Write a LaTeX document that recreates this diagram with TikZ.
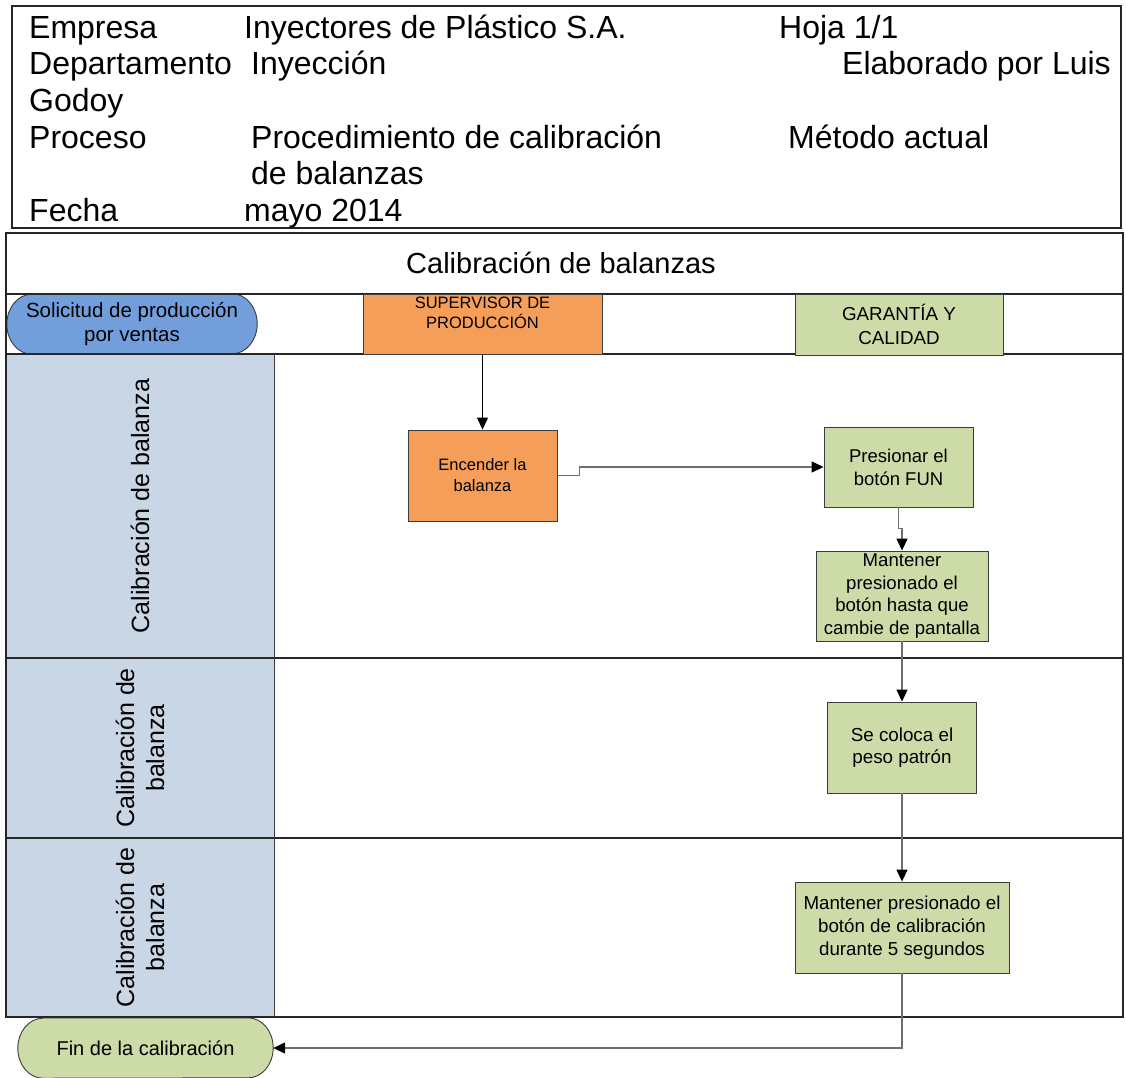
\documentclass[tikz,border=0pt]{standalone}
\usepackage{fontspec}
\setmainfont{Liberation Sans}
\usetikzlibrary{arrows.meta,calc}
\pgfdeclarelayer{bg}
\pgfsetlayers{bg,main}
\definecolor{orangebox}{RGB}{245,158,89}
\definecolor{greenbox}{RGB}{204,219,168}
\definecolor{bluebox}{RGB}{114,159,220}
\definecolor{lanefill}{RGB}{201,214,230}
\definecolor{boxline}{RGB}{60,60,60}
\definecolor{connline}{RGB}{110,110,110}
\newcommand{\fsz}[2]{\fontsize{#1}{#2}\selectfont}
\tikzset{
  x=1pt, y=1pt,
  proc/.style={draw=boxline, line width=0.9pt, inner sep=0pt, align=center},
  orangeproc/.style={proc, fill=orangebox},
  greenproc/.style={proc, fill=greenbox},
  terminal/.style={draw=none, inner sep=0pt, align=center},
  termshape/.style={draw=boxline, line width=0.9pt},
  conn/.style={draw=connline, line width=1.3pt, -{Triangle[length=12pt,width=11pt,color=black]}},
  frameline/.style={draw=black!85, line width=1.8pt},
  laneline/.style={draw=black!85, line width=1.4pt},
  hdrtext/.style={anchor=base west, inner sep=0pt, font=\fsz{32}{36.8}},
  lanelabel/.style={rotate=90, align=center, inner sep=0pt, font=\fsz{25}{30}}
}
\begin{document}
\begin{tikzpicture}
\useasboundingbox (0,0) rectangle (1126,-1077);
\begin{pgfonlayer}{bg}
  \fill[white] (0,0) rectangle (1126,-1077);
  \fill[lanefill] (6,-354) rectangle (274,-1017);
\end{pgfonlayer}

% header block
\draw[frameline] (12,-6) rectangle (1121,-228);
\node[hdrtext] (hemp) at (29,-38) {Empresa};
\node[hdrtext] (hempv) at (244,-38) {Inyectores de Plástico S.A.};
\node[hdrtext] (hhoja) at (779,-38) {Hoja 1/1};
\node[hdrtext] (hdep) at (29,-74.7) {Departamento};
\node[hdrtext] (hdepv) at (251,-74.7) {Inyección};
\node[hdrtext, anchor=base east] (helab) at (1111,-74.7) {Elaborado por Luis};
\node[hdrtext] (hgod) at (29,-111.4) {Godoy};
\node[hdrtext] (hpro) at (29,-148.1) {Proceso};
\node[hdrtext] (hprov) at (251,-148.1) {Procedimiento de calibración};
\node[hdrtext] (hmet) at (788,-148.1) {Método actual};
\node[hdrtext] (hprov2) at (251,-184.8) {de balanzas};
\node[hdrtext] (hfec) at (29,-221.5) {Fecha};
\node[hdrtext] (hfecv) at (244,-221.5) {mayo 2014};

% diagram frame
\draw[frameline] (6,-233) rectangle (1123,-1017);
\draw[laneline] (6,-294) -- (1123,-294);
\draw[laneline] (6,-354) -- (1123,-354);
\draw[laneline] (6,-658) -- (1123,-658);
\draw[laneline] (6,-838) -- (1123,-838);
\draw[draw=boxline, line width=1pt] (274,-354) -- (274,-1017);

\node[font=\fsz{29}{33}, inner sep=0pt] (title) at (561,-263) {Calibración de balanzas};

% lane header row
\node[terminal, minimum width=250pt, minimum height=60pt, font=\fsz{20.5}{24}] (sol) at (132,-324) {Solicitud de producción\\por ventas};
\node[orangeproc, minimum width=239pt, minimum height=60pt,
  label={[anchor=north, inner sep=0pt, align=center, font=\fsz{16.5}{20}, yshift=-3pt]north:SUPERVISOR DE\\PRODUCCIÓN}] (sup) at (482.5,-324) {};
\node[greenproc, minimum width=208pt, minimum height=61pt, font=\fsz{18.8}{24}] (gar) at (899,-324.5) {GARANTÍA Y\\CALIDAD};

% lane labels
\node[lanelabel] (lab1) at (140,-506) {Calibración de balanza};
\node[lanelabel] (lab2) at (140,-748) {Calibración de\\balanza};
\node[lanelabel] (lab3) at (140,-927.5) {Calibración de\\balanza};

% process boxes
\node[orangeproc, minimum width=149pt, minimum height=91pt, font=\fsz{16.5}{21}] (enc) at (482.5,-475.5) {Encender la\\balanza};
\node[greenproc, minimum width=149pt, minimum height=80pt, font=\fsz{18.5}{23}] (pres) at (898.5,-467) {Presionar el\\botón FUN};
\node[greenproc, minimum width=172pt, minimum height=90pt, font=\fsz{18.6}{22.6}] (m1) at (902,-596) {Mantener\\presionado el\\botón hasta que\\cambie de pantalla};
\node[greenproc, minimum width=149pt, minimum height=91pt, font=\fsz{18.8}{22}] (col) at (902,-747.5) {Se coloca el\\peso patrón};
\node[greenproc, minimum width=214pt, minimum height=91pt, font=\fsz{18.75}{23}] (m2) at (902,-927.5) {Mantener presionado el\\botón de calibración\\durante 5 segundos};
\node[terminal, minimum width=255pt, minimum height=60pt, font=\fsz{20}{24}] (fin) at (145.5,-1048) {Fin de la calibración};

% terminal outlines (behind the text)
\begin{pgfonlayer}{bg}
  \filldraw[termshape, fill=bluebox]
    ($(sol.north west)+(25,0)$) -- ($(sol.north east)+(-25,0)$)
    arc[start angle=90, end angle=-90, x radius=25pt, y radius=30pt]
    -- ($(sol.south west)+(25,0)$)
    arc[start angle=270, end angle=90, x radius=25pt, y radius=30pt] -- cycle;
  \filldraw[termshape, fill=greenbox]
    ($(fin.north west)+(25,0)$) -- ($(fin.north east)+(-25,0)$)
    arc[start angle=90, end angle=-90, x radius=25pt, y radius=30pt]
    -- ($(fin.south west)+(25,0)$)
    arc[start angle=270, end angle=90, x radius=25pt, y radius=30pt] -- cycle;
\end{pgfonlayer}

% connectors
\draw[conn, draw=black] (sup.south) -- (enc.north);
\draw[conn] (enc.east) -- ++(22,0) |- (pres.west);
\draw[conn] (pres.south) -- ++(0,-21) -| (m1.north);
\draw[conn] (m1.south) -- (col.north);
\draw[conn] (col.south) -- (m2.north);
\draw[conn] (m2.south) |- (fin.east);
\end{tikzpicture}
\end{document}
